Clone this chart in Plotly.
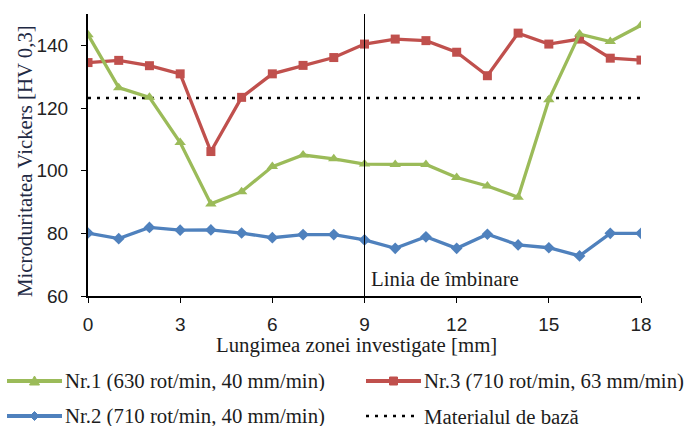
import plotly.graph_objects as go

x_mm = list(range(0, 19))
nr1 = [143.4, 126.5, 123.4, 109.0, 89.4, 93.3, 101.3, 105.0, 103.8, 102.1,
       102.0, 102.0, 97.8, 95.1, 91.5, 122.6, 143.6, 141.2, 146.4]
nr3 = [134.5, 135.2, 133.5, 130.9, 106.1, 123.4, 130.9, 133.6, 136.1, 140.4,
       142.0, 141.5, 137.8, 130.3, 143.9, 140.4, 142.0, 135.9, 135.3]
nr2 = [80.1, 78.3, 81.9, 81.0, 81.1, 80.1, 78.6, 79.6, 79.6, 77.9,
       75.2, 78.9, 75.2, 79.7, 76.3, 75.4, 72.8, 80.0, 80.0]
base_value = 123.2
base = [base_value] * len(x_mm)
join_x = 9
x_ticks = [0, 3, 6, 9, 12, 15, 18]
y_ticks = [60, 80, 100, 120, 140]

names = ["Nr.1 (630 rot/min, 40 mm/min)", "Nr.3 (710 rot/min, 63 mm/min)",
         "Nr.2 (710 rot/min, 40 mm/min)", "Materialul de bază"]
colors = ["#9BBB59", "#C0504D", "#4F81BD", "black"]
x_title = "Lungimea zonei investigate [mm]"
y_title = "Microduritatea Vickers [HV 0,3]"

serif = "Liberation Serif, Times New Roman, serif"
sans = "Liberation Sans, Arial, sans-serif"
TXT = "#1c1c1c"
FS = 20.8
DOT = "3px,6px"

W, H = 689, 427
ML, MR, MT, MB = 88, 48, 14, 131
PW, PH = W - ML - MR, H - MT - MB


def px_x(p):
    return (p - ML) / PW


def px_y(p):
    return (H - MB - p) / PH


fig = go.Figure()
fig.add_trace(go.Scatter(x=x_mm, y=base, name=names[3], mode="lines",
                         line=dict(color="black", width=2.5, dash=DOT)))
fig.add_trace(go.Scatter(x=x_mm, y=nr2, name=names[2], mode="lines+markers",
                         line=dict(color=colors[2], width=3.3),
                         marker=dict(symbol="diamond", size=9, color=colors[2])))
fig.add_trace(go.Scatter(x=x_mm, y=nr3, name=names[1], mode="lines+markers",
                         line=dict(color=colors[1], width=3.3),
                         marker=dict(symbol="square", size=9, color=colors[1])))
fig.add_trace(go.Scatter(x=x_mm, y=nr1, name=names[0], mode="lines+markers",
                         line=dict(color=colors[0], width=3.3),
                         marker=dict(symbol="triangle-up", size=10, color=colors[0])))

fig.add_shape(type="line", x0=join_x, x1=join_x, y0=60, y1=150, xref="x", yref="y",
              line=dict(color="black", width=1))
fig.add_annotation(x=join_x, y=65.7, xref="x", yref="y", text="Linia de îmbinare",
                   showarrow=False, xanchor="left", xshift=4,
                   font=dict(family=serif, size=FS, color=TXT))

# axis titles placed as annotations (slightly off-centre, as in the original)
fig.add_annotation(x=px_x(356), y=px_y(345), xref="paper", yref="paper",
                   text=x_title, showarrow=False, xanchor="center", yanchor="middle",
                   font=dict(family=serif, size=FS, color=TXT))
fig.add_annotation(x=px_x(25), y=px_y(161), xref="paper", yref="paper",
                   text=y_title, showarrow=False, textangle=-90,
                   xanchor="center", yanchor="middle",
                   font=dict(family=serif, size=FS, color="#1f2a44"))

# ---- legend drawn by hand (Excel-style long keys) ----
legend_items = [
    (0, 7, 381, "M-5,-4 L5,-4 L0,5 Z"),
    (1, 366, 381, "M-4,-4 L4,-4 L4,4 L-4,4 Z"),
    (2, 7, 416, "M-4.5,0 L0,-4.5 L4.5,0 L0,4.5 Z"),
    (3, 366, 416, None),
]
for idx, kx, ky, mpath in legend_items:
    col = colors[idx]
    if mpath is None:
        fig.add_shape(type="line", xref="paper", yref="paper",
                      x0=px_x(kx), x1=px_x(kx + 50), y0=px_y(ky), y1=px_y(ky),
                      line=dict(color="black", width=2.5, dash=DOT))
    else:
        fig.add_shape(type="line", xref="paper", yref="paper",
                      x0=px_x(kx), x1=px_x(kx + 55), y0=px_y(ky), y1=px_y(ky),
                      line=dict(color=col, width=4))
        fig.add_shape(type="path", xref="paper", yref="paper",
                      xsizemode="pixel", ysizemode="pixel",
                      xanchor=px_x(kx + 27.5), yanchor=px_y(ky),
                      path=mpath, fillcolor=col, line=dict(color=col, width=1))
    fig.add_annotation(x=px_x(kx + 57), y=px_y(ky), xref="paper", yref="paper",
                       text=names[idx], showarrow=False, xanchor="left",
                       yanchor="middle", height=20, valign="middle", borderpad=0,
                       font=dict(family=serif, size=FS, color=TXT))

fig.update_layout(
    width=W, height=H,
    margin=dict(l=ML, r=MR, t=MT, b=MB),
    plot_bgcolor="white", paper_bgcolor="white",
    showlegend=False,
    xaxis=dict(range=[0, 18], tickmode="array", tickvals=x_ticks,
               showline=True, linecolor="black", linewidth=2,
               ticks="outside", ticklen=5, tickcolor="black", showgrid=False,
               zeroline=False, automargin=False, ticklabelstandoff=5,
               tickfont=dict(family=sans, size=19, color="#222")),
    yaxis=dict(range=[60, 150], tickmode="array", tickvals=y_ticks,
               showline=True, linecolor="black", linewidth=2,
               ticks="outside", ticklen=5, tickcolor="black", showgrid=False,
               zeroline=False, automargin=False, ticklabelstandoff=9,
               tickfont=dict(family=sans, size=19, color="#222")),
)

fig.write_html("out.html")
